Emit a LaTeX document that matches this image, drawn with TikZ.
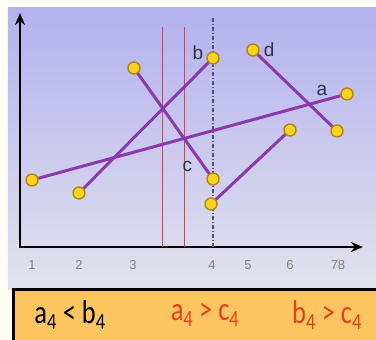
\documentclass[tikz,border=0pt]{standalone}
\usepackage{graphicx}
\usepackage{fontspec}
\setmainfont{Carlito}
\newfontfamily\arialfont{Liberation Sans}
\usetikzlibrary{arrows.meta,positioning}
\definecolor{panelTop}{HTML}{B3B1EE}
\definecolor{panelBot}{HTML}{E2E2EE}
\definecolor{segcol}{HTML}{8A3AAA}
\definecolor{dotfill}{HTML}{F6D420}
\definecolor{dotline}{HTML}{B88410}
\definecolor{guidered}{HTML}{D8404E}
\definecolor{guidedark}{HTML}{505070}
\definecolor{lblcol}{HTML}{2E3048}
\definecolor{boxfill}{HTML}{FCC560}
\definecolor{ineqred}{HTML}{E4401C}
\newcommand{\ineqtext}[1]{\scalebox{0.8}[1]{#1}}

\begin{document}
\begin{tikzpicture}[x=1pt, y=-1pt,
  endpt/.style={circle, fill=dotfill, draw=dotline, line width=1.4pt, minimum size=12pt, inner sep=0pt},
  seg/.style={segcol, line width=3pt},
  lbl/.style={font=\arialfont\fontsize{19}{19}\selectfont, text=lblcol, inner sep=0pt},
  ticklbl/.style={font=\arialfont\fontsize{13}{13}\selectfont, text=gray},
  ineq/.style={font=\fontsize{33}{33}\selectfont, inner sep=0pt},
  axisline/.style={line width=2.6pt, {Stealth[length=12pt,width=10pt]}-{Stealth[length=12pt,width=10pt]}}]
\useasboundingbox (0,0) rectangle (376,340);
\fill[white!96!yellow] (0,0) rectangle (376,340);
\shade[top color=panelTop, bottom color=panelBot] (8,7) rectangle (376,289);

% axes
\coordinate (ytop) at (20,13);
\coordinate (O) at (20,247);
\coordinate (xend) at (363,247);
\draw[axisline] (ytop) -- (O) -- (xend);

% sweep lines
\coordinate (sw1) at (162,27);
\coordinate (sw1b) at (162,247);
\coordinate (sw2) at (184,27);
\coordinate (sw2b) at (184,247);
\coordinate (sw4) at (213,18);
\coordinate (sw4b) at (213,247);
\draw[guidered, line width=0.9pt] (sw1) -- (sw1b);
\draw[guidered, line width=0.9pt] (sw2) -- (sw2b);
\draw[guidedark, line width=1.2pt, dash pattern=on 4pt off 2pt on 1pt off 2pt] (sw4) -- (sw4b);

% segment end points
\node[endpt] (a1) at (32,180) {};
\node[endpt] (a2) at (347,94) {};
\node[endpt] (b1) at (79,193) {};
\node[endpt] (b2) at (213,58) {};
\node[endpt] (c1) at (134,68) {};
\node[endpt] (c2) at (213,179) {};
\node[endpt] (d1) at (253,50) {};
\node[endpt] (d2) at (337,131) {};
\node[endpt] (e1) at (211,204) {};
\node[endpt] (e2) at (290,130) {};
\draw[seg] (a1) -- (a2);
\draw[seg] (b1) -- (b2);
\draw[seg] (c1) -- (c2);
\draw[seg] (d1) -- (d2);
\draw[seg] (e1) -- (e2);

% labels
\node[lbl, left=3pt of b2, yshift=5pt] (bl) {b};
\node[lbl, right=4pt of d1] (dl) {d};
\node[lbl, left=13pt of a2, yshift=4pt] (al) {a};
\node[lbl, left=14pt of c2, yshift=13pt] (cl) {c};

% x ticks
\node[ticklbl] (t1) at (32,265) {1};
\node[ticklbl] (t2) at (79,265) {2};
\node[ticklbl] (t3) at (133,265) {3};
\node[ticklbl] (t4) at (212,265) {4};
\node[ticklbl] (t5) at (248,265) {5};
\node[ticklbl] (t6) at (290,265) {6};
\node[ticklbl] (t78) at (338,265) {78};

% comparisons
\fill[boxfill] (13,289) rectangle (376,340);
\draw[line width=3pt] (13,341) -- (13,289) -- (377,289);
\node[ineq] (ab) at (70,315) {\ineqtext{a\textsubscript{4} < b\textsubscript{4}}};
\node[ineq, text=ineqred] (ac) at (205,315) {\ineqtext{a\textsubscript{4} > c\textsubscript{4}}};
\node[ineq, text=ineqred] (bc) at (327,315) {\ineqtext{b\textsubscript{4} > c\textsubscript{4}}};
\end{tikzpicture}
\end{document}
